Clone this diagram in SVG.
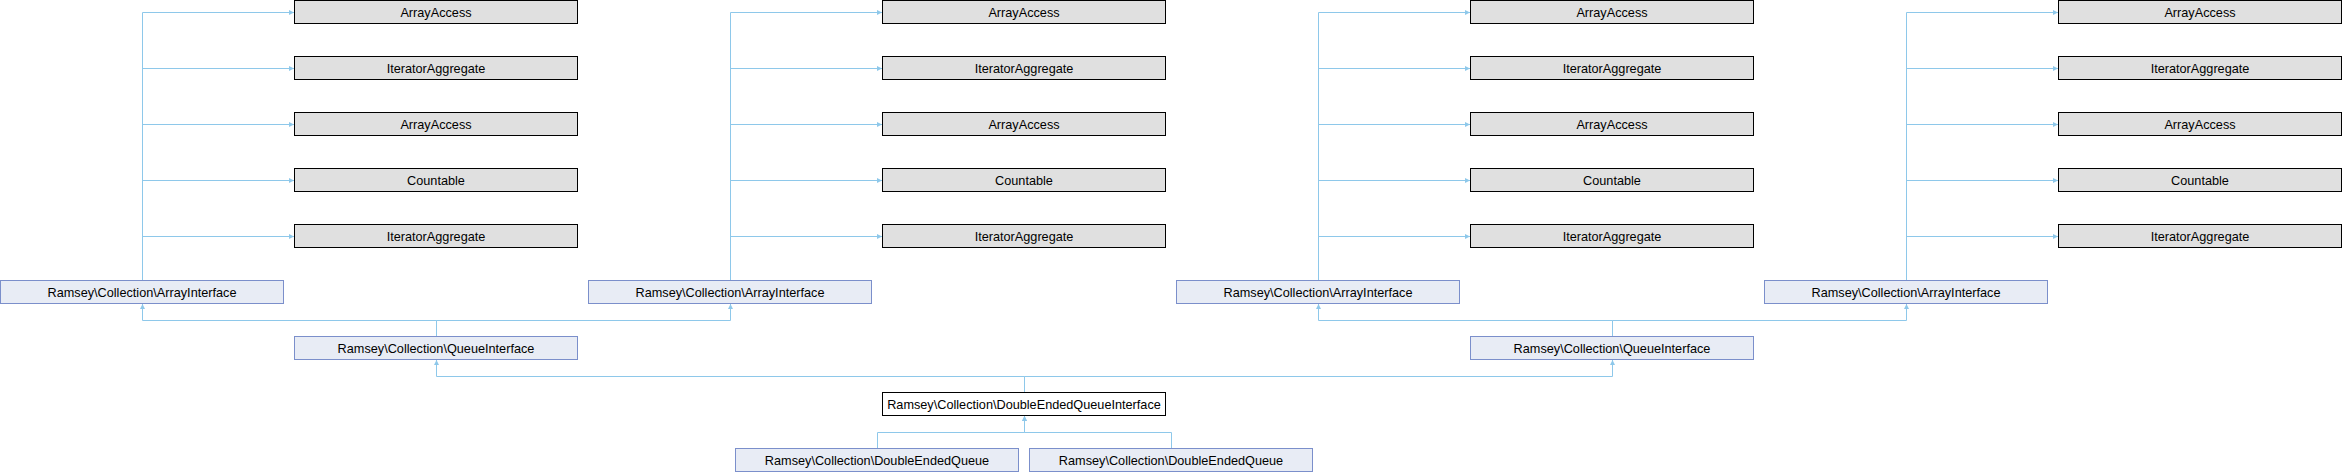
<svg xmlns="http://www.w3.org/2000/svg" width="2342" height="472" viewBox="0 0 2342 472">
<style>
text{font-family:"Liberation Sans",Arial,sans-serif;font-size:12.7px;fill:#000;text-anchor:middle}
.ext rect{fill:#E0E0E0;stroke:#000;stroke-width:1}
.cls rect{fill:#E8ECF5;stroke:#7B8FCB;stroke-width:1}
.cur rect{fill:#FFFFFF;stroke:#000;stroke-width:1}
.e{fill:none;stroke:#8EC8EA;stroke-width:1;marker-end:url(#ah)}
</style>
<defs>
<marker id="ah" markerUnits="userSpaceOnUse" markerWidth="6" markerHeight="6" refX="5" refY="2.5" orient="auto"><path d="M0,0 L5,2.5 L0,5 z" fill="#8EC8EA"/></marker>
</defs>
<rect width="2342" height="472" fill="#fff"/>
<g id="connectors">
<path class="e" d="M142.5,280 V12.5 H294"/>
<path class="e" d="M142.5,280 V68.5 H294"/>
<path class="e" d="M142.5,280 V124.5 H294"/>
<path class="e" d="M142.5,280 V180.5 H294"/>
<path class="e" d="M142.5,280 V236.5 H294"/>
<path class="e" d="M730.5,280 V12.5 H882"/>
<path class="e" d="M730.5,280 V68.5 H882"/>
<path class="e" d="M730.5,280 V124.5 H882"/>
<path class="e" d="M730.5,280 V180.5 H882"/>
<path class="e" d="M730.5,280 V236.5 H882"/>
<path class="e" d="M1318.5,280 V12.5 H1470"/>
<path class="e" d="M1318.5,280 V68.5 H1470"/>
<path class="e" d="M1318.5,280 V124.5 H1470"/>
<path class="e" d="M1318.5,280 V180.5 H1470"/>
<path class="e" d="M1318.5,280 V236.5 H1470"/>
<path class="e" d="M1906.5,280 V12.5 H2058"/>
<path class="e" d="M1906.5,280 V68.5 H2058"/>
<path class="e" d="M1906.5,280 V124.5 H2058"/>
<path class="e" d="M1906.5,280 V180.5 H2058"/>
<path class="e" d="M1906.5,280 V236.5 H2058"/>
<path class="e" d="M436.5,336 V320.5 H142.5 V304"/>
<path class="e" d="M436.5,336 V320.5 H730.5 V304"/>
<path class="e" d="M1612.5,336 V320.5 H1318.5 V304"/>
<path class="e" d="M1612.5,336 V320.5 H1906.5 V304"/>
<path class="e" d="M1024.5,392 V376.5 H436.5 V360"/>
<path class="e" d="M1024.5,392 V376.5 H1612.5 V360"/>
<path class="e" d="M877.5,448 V432.5 H1024.5 V416"/>
<path class="e" d="M1171.5,448 V432.5 H1024.5 V416"/>
</g>
<g id="n_aa1" class="ext"><rect x="294.5" y="0.5" width="283" height="23"/><text x="436" y="16.5">ArrayAccess</text></g>
<g id="n_ia1" class="ext"><rect x="294.5" y="56.5" width="283" height="23"/><text x="436" y="72.5">IteratorAggregate</text></g>
<g id="n_aa2" class="ext"><rect x="294.5" y="112.5" width="283" height="23"/><text x="436" y="128.5">ArrayAccess</text></g>
<g id="n_c1" class="ext"><rect x="294.5" y="168.5" width="283" height="23"/><text x="436" y="184.5">Countable</text></g>
<g id="n_ia2" class="ext"><rect x="294.5" y="224.5" width="283" height="23"/><text x="436" y="240.5">IteratorAggregate</text></g>
<g id="n_aa3" class="ext"><rect x="882.5" y="0.5" width="283" height="23"/><text x="1024" y="16.5">ArrayAccess</text></g>
<g id="n_ia3" class="ext"><rect x="882.5" y="56.5" width="283" height="23"/><text x="1024" y="72.5">IteratorAggregate</text></g>
<g id="n_aa4" class="ext"><rect x="882.5" y="112.5" width="283" height="23"/><text x="1024" y="128.5">ArrayAccess</text></g>
<g id="n_c2" class="ext"><rect x="882.5" y="168.5" width="283" height="23"/><text x="1024" y="184.5">Countable</text></g>
<g id="n_ia4" class="ext"><rect x="882.5" y="224.5" width="283" height="23"/><text x="1024" y="240.5">IteratorAggregate</text></g>
<g id="n_aa5" class="ext"><rect x="1470.5" y="0.5" width="283" height="23"/><text x="1612" y="16.5">ArrayAccess</text></g>
<g id="n_ia5" class="ext"><rect x="1470.5" y="56.5" width="283" height="23"/><text x="1612" y="72.5">IteratorAggregate</text></g>
<g id="n_aa6" class="ext"><rect x="1470.5" y="112.5" width="283" height="23"/><text x="1612" y="128.5">ArrayAccess</text></g>
<g id="n_c3" class="ext"><rect x="1470.5" y="168.5" width="283" height="23"/><text x="1612" y="184.5">Countable</text></g>
<g id="n_ia6" class="ext"><rect x="1470.5" y="224.5" width="283" height="23"/><text x="1612" y="240.5">IteratorAggregate</text></g>
<g id="n_aa7" class="ext"><rect x="2058.5" y="0.5" width="283" height="23"/><text x="2200" y="16.5">ArrayAccess</text></g>
<g id="n_ia7" class="ext"><rect x="2058.5" y="56.5" width="283" height="23"/><text x="2200" y="72.5">IteratorAggregate</text></g>
<g id="n_aa8" class="ext"><rect x="2058.5" y="112.5" width="283" height="23"/><text x="2200" y="128.5">ArrayAccess</text></g>
<g id="n_c4" class="ext"><rect x="2058.5" y="168.5" width="283" height="23"/><text x="2200" y="184.5">Countable</text></g>
<g id="n_ia8" class="ext"><rect x="2058.5" y="224.5" width="283" height="23"/><text x="2200" y="240.5">IteratorAggregate</text></g>
<g id="n_ai1" class="cls"><rect x="0.5" y="280.5" width="283" height="23"/><text x="142" y="296.5">Ramsey\Collection\ArrayInterface</text></g>
<g id="n_ai2" class="cls"><rect x="588.5" y="280.5" width="283" height="23"/><text x="730" y="296.5">Ramsey\Collection\ArrayInterface</text></g>
<g id="n_ai3" class="cls"><rect x="1176.5" y="280.5" width="283" height="23"/><text x="1318" y="296.5">Ramsey\Collection\ArrayInterface</text></g>
<g id="n_ai4" class="cls"><rect x="1764.5" y="280.5" width="283" height="23"/><text x="1906" y="296.5">Ramsey\Collection\ArrayInterface</text></g>
<g id="n_qi1" class="cls"><rect x="294.5" y="336.5" width="283" height="23"/><text x="436" y="352.5">Ramsey\Collection\QueueInterface</text></g>
<g id="n_qi2" class="cls"><rect x="1470.5" y="336.5" width="283" height="23"/><text x="1612" y="352.5">Ramsey\Collection\QueueInterface</text></g>
<g id="n_deqi" class="cur"><rect x="882.5" y="392.5" width="283" height="23"/><text x="1024" y="408.5">Ramsey\Collection\DoubleEndedQueueInterface</text></g>
<g id="n_deq1" class="cls"><rect x="735.5" y="448.5" width="283" height="23"/><text x="877" y="464.5">Ramsey\Collection\DoubleEndedQueue</text></g>
<g id="n_deq2" class="cls"><rect x="1029.5" y="448.5" width="283" height="23"/><text x="1171" y="464.5">Ramsey\Collection\DoubleEndedQueue</text></g>
</svg>
